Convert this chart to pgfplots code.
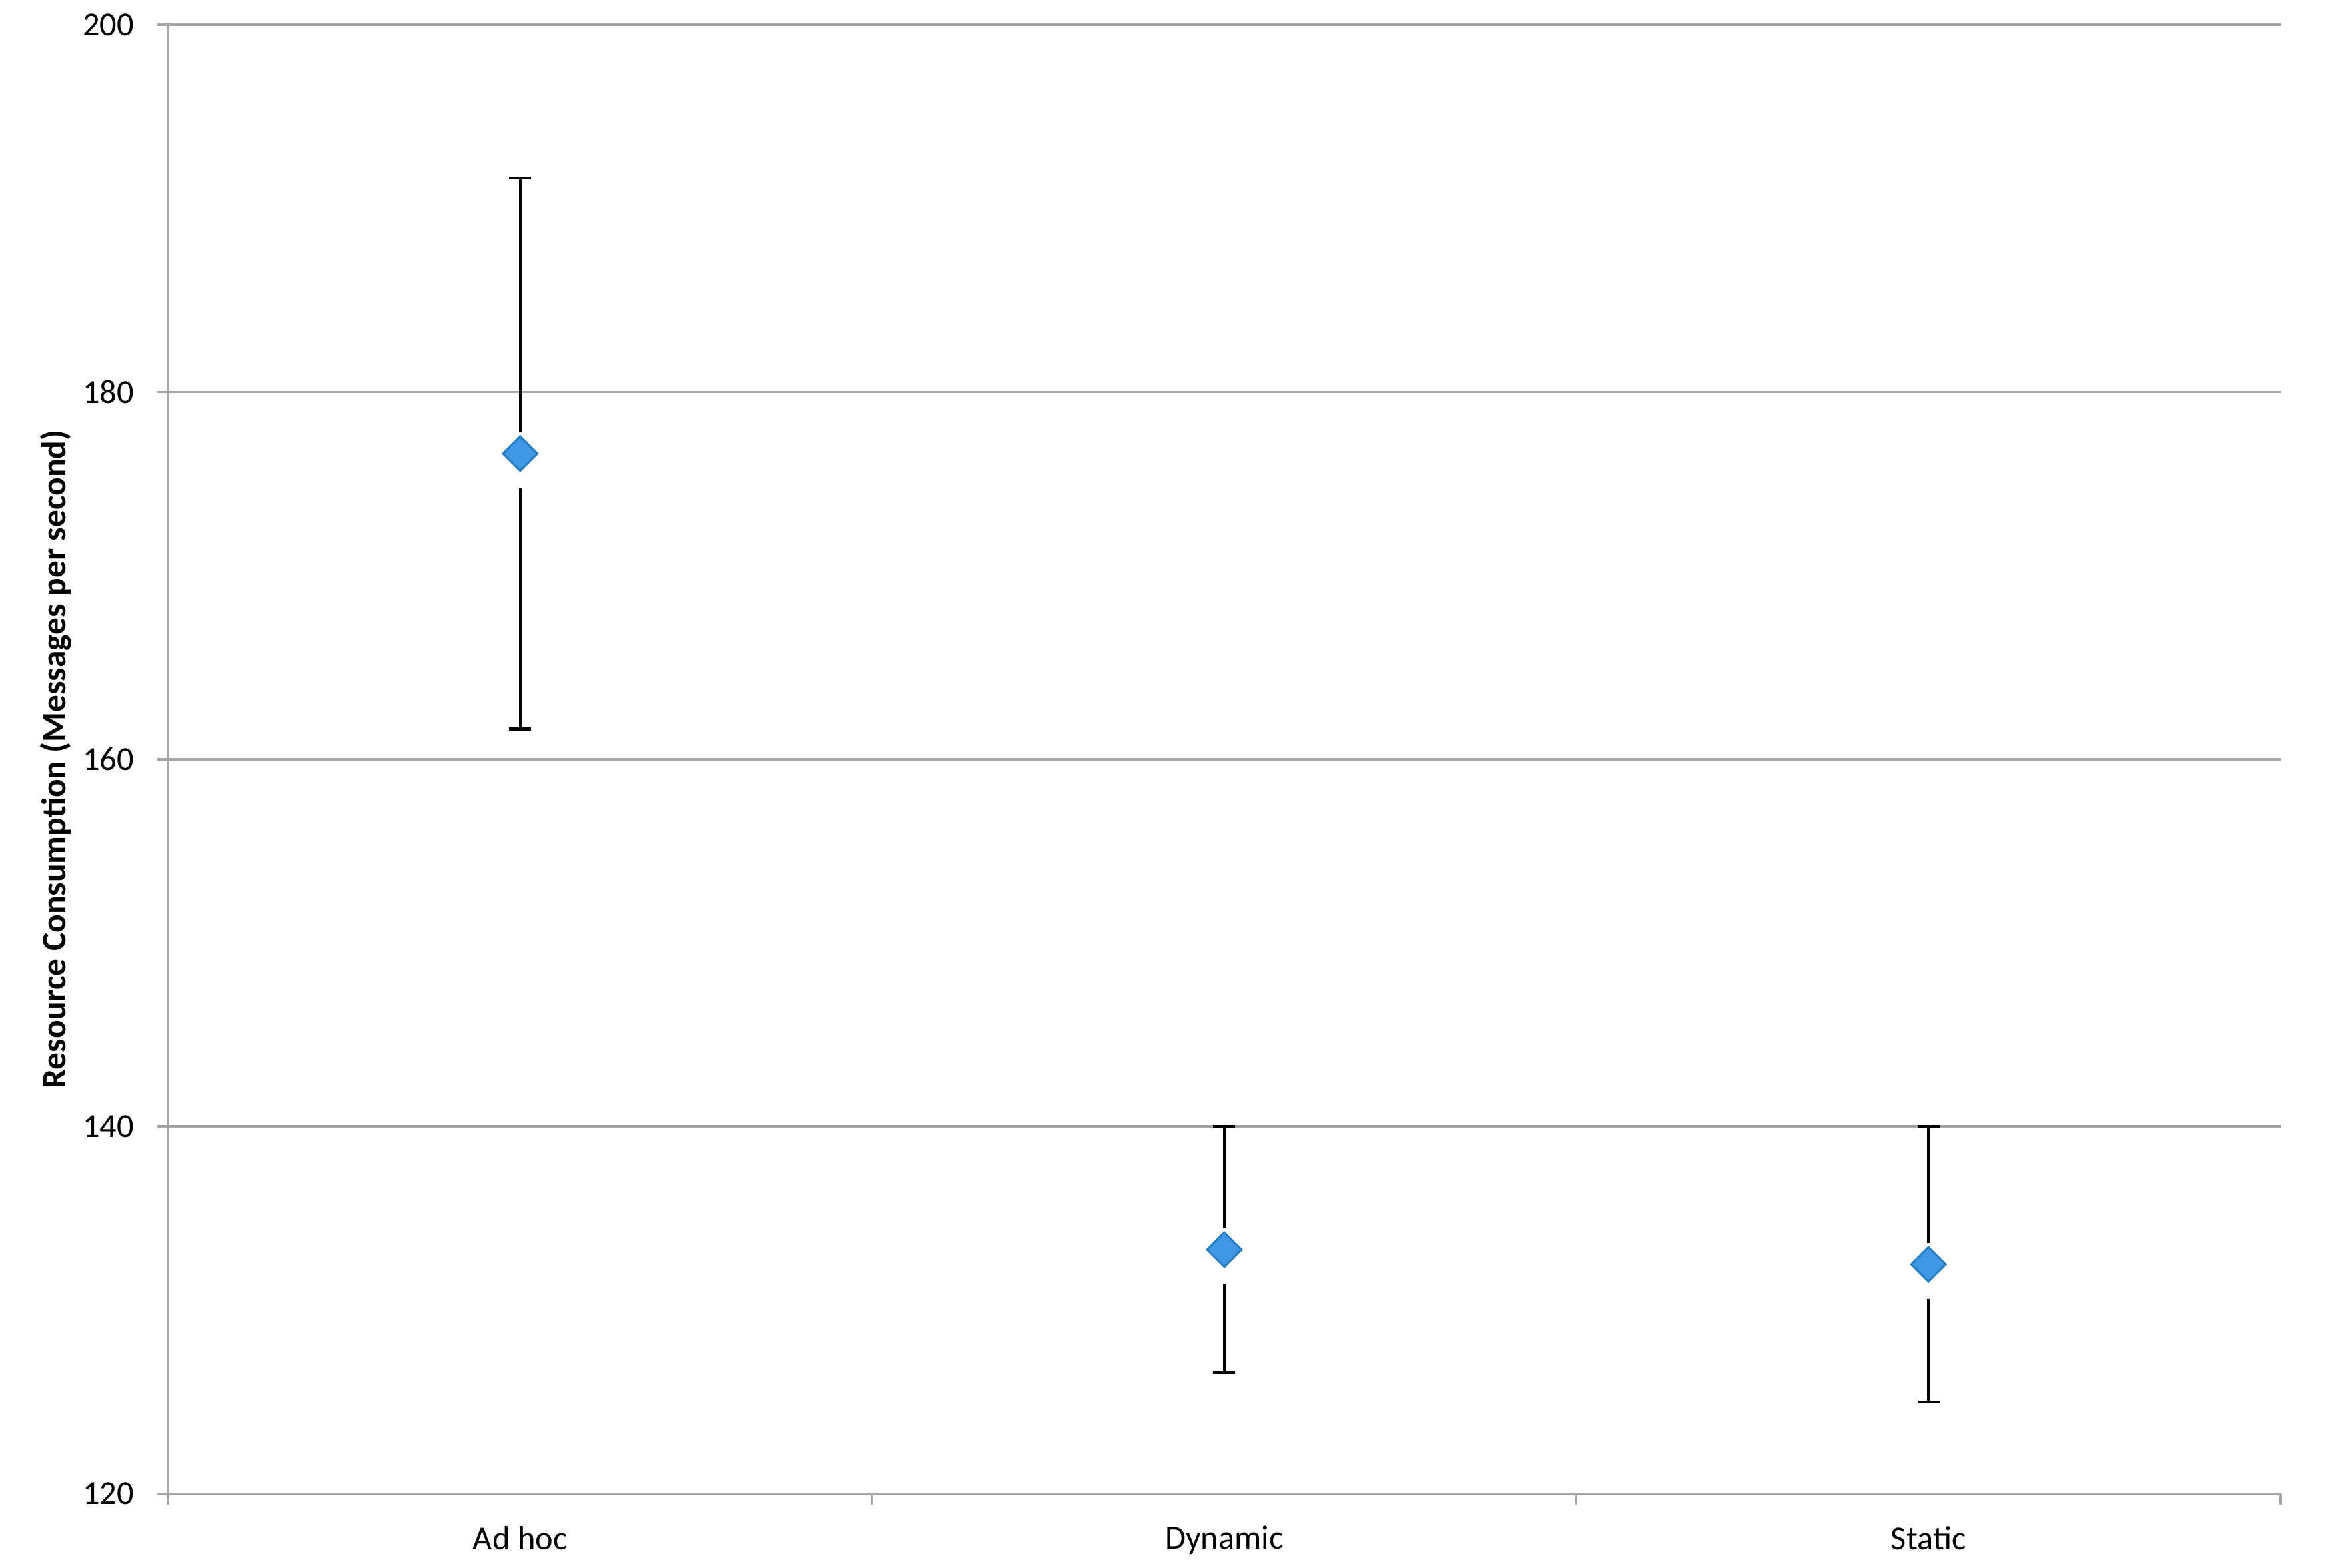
\documentclass[border=0pt]{standalone}
\usepackage{pgfplots}
\pgfplotsset{compat=1.18}
\usepackage{fontspec}
\setmainfont{Carlito}

\definecolor{gridgray}{HTML}{A6A6A6}
\definecolor{markfill}{HTML}{3F98E6}
\definecolor{markedge}{HTML}{2A7FC2}

\begin{document}
\begin{tikzpicture}
% fixed frame so the page keeps the reference proportions
\useasboundingbox (-36pt,-15.9pt) rectangle (463.6pt,320.3pt);
\begin{axis}[
    at={(0,0)}, anchor=south west,
    scale only axis,
    width=453pt, height=315pt,
    xmin=-0.5, xmax=2.5,
    ymin=120, ymax=200,
    ytick={120,140,...,200},
    xtick={-0.5,0.5,1.5,2.5},
    xticklabels={},
    extra x ticks={0,1,2},
    extra x tick labels={Ad hoc, Dynamic, Static},
    extra x tick style={major tick length=0pt, xmajorgrids=false},
    axis x line*=bottom,
    axis y line*=left,
    axis line style={draw=gridgray, line width=0.55pt, -},
    tick style={draw=gridgray, line width=0.55pt},
    major tick length=2.3pt,
    tick align=outside,
    ymajorgrids,
    grid style={draw=gridgray, line width=0.55pt},
    /pgf/number format/assume math mode=true,
    tick label style={font=\fontsize{7.2}{8.6}\selectfont},
    yticklabel style={xshift=-1.5pt},
    xticklabel style={yshift=-3.4pt},
    every axis y label/.style={at={(axis description cs:0,0.5)}, xshift=-24.1pt, rotate=90, anchor=center},
    ylabel={\bfseries Resource Consumption (Messages per second)},
    label style={font=\fontsize{7.35}{8.8}\selectfont},
    clip=false,
]
% error bars
\addplot[draw=none, mark=none,
    error bars/.cd, y dir=both, y explicit,
    error bar style={black, line width=0.62pt},
    error mark options={rotate=90, black, line width=0.62pt, mark size=2.35pt}]
    table[x=x, y=y, y error plus=ep, y error minus=em] {
x y ep em
0 176.65 15.0 15.0
1 133.3 6.7 6.7
2 132.5 7.5 7.5
};
% white halo behind the markers
\addplot[only marks, mark=|, mark size=6pt,
    mark options={draw=white, line width=2.5pt, yshift=-1.4pt}]
    coordinates {(0,176.65) (1,133.3) (2,132.5)};
% markers
\addplot[only marks, mark=square*, mark size=2.6pt,
    mark options={rotate=45, fill=markfill, draw=markedge, line width=0.45pt}]
    coordinates {(0,176.65) (1,133.3) (2,132.5)};
\end{axis}
\end{tikzpicture}
\end{document}
